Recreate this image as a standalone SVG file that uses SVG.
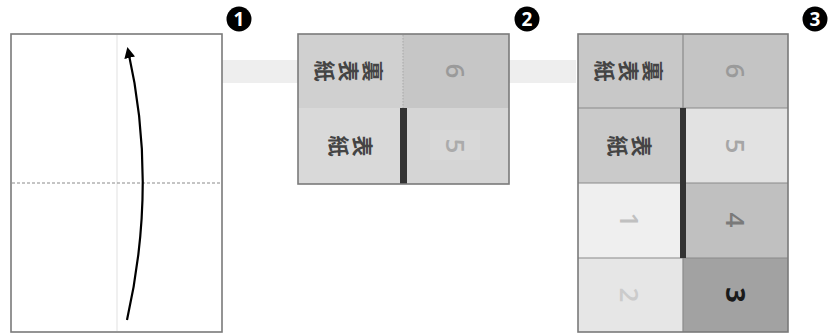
<svg xmlns="http://www.w3.org/2000/svg" width="839" height="334" viewBox="0 0 839 334">
<style>
.frame{fill:none;stroke:#7a7a7a;stroke-width:1.6}
.grid{stroke:#8a8a8a;stroke-width:1.2;fill:none}
.kanji{font-family:"Noto Sans CJK JP","Noto Sans CJK SC",sans-serif;font-size:21px;font-weight:bold;fill:#444;text-anchor:middle;dominant-baseline:central}
.num{font-family:"Open Sans","Liberation Sans",sans-serif;font-size:26px;font-weight:600;text-anchor:middle;dominant-baseline:central}
.num.strong{font-weight:bold;font-size:27px}
.badge circle{fill:#000}
.badge text{font-family:"Open Sans","Liberation Sans",sans-serif;font-size:19px;font-weight:bold;fill:#fff;text-anchor:middle;dominant-baseline:central}
.bar{fill:#333}
</style>
<defs>
<marker id="ah" markerWidth="11" markerHeight="11" refX="8" refY="5.5" orient="auto" markerUnits="userSpaceOnUse">
<path d="M0,0 L11,5.5 L0,11 Z" fill="#000"/>
</marker>
</defs>
<rect width="839" height="334" fill="#fff"/>
<rect id="band" x="222" y="60" width="354" height="23" fill="#eeeeee"/>

<g id="step1">
<rect x="11" y="34" width="211" height="298" fill="#fff"/>
<line x1="117" y1="35" x2="117" y2="331" stroke="#e6e6e6" stroke-width="1.2"/>
<line x1="12" y1="183" x2="221" y2="183" stroke="#8a8a8a" stroke-width="1" stroke-dasharray="3,2"/>
<rect class="frame" x="11" y="34" width="211" height="298"/>
</g>

<g id="connectors">
<path d="M127,320 Q158,183 128,50" fill="none" stroke="#000" stroke-width="2.2" marker-end="url(#ah)"/>
</g>

<g id="step2">
<rect x="298" y="34" width="105" height="74" fill="#d0d0d0"/>
<rect x="403" y="34" width="106" height="74" fill="#c6c6c6"/>
<rect x="298" y="108" width="105" height="76" fill="#d9d9d9"/>
<rect x="403" y="108" width="106" height="76" fill="#d5d5d5"/>
<rect x="430" y="130" width="50" height="30" fill="#d8d8d8"/>
<line x1="403" y1="35" x2="403" y2="108" stroke="#a8a8a8" stroke-width="1" stroke-dasharray="1.5,1.5"/>
<rect class="bar" x="400" y="108" width="7" height="76"/>
<rect class="frame" x="298" y="34" width="211" height="150"/>
<text class="kanji" x="326" y="71" transform="rotate(90 326 71)">紙</text>
<text class="kanji" x="350" y="71" transform="rotate(90 350 71)">表</text>
<text class="kanji" x="374" y="71" transform="rotate(90 374 71)">裏</text>
<text class="kanji" x="340" y="146" transform="rotate(90 340 146)">紙</text>
<text class="kanji" x="364" y="146" transform="rotate(90 364 146)">表</text>
<text class="num" x="456" y="71" fill="#9a9a9a" transform="rotate(90 456 71)">6</text>
<text class="num" x="456" y="146" fill="#ababab" transform="rotate(90 456 146)">5</text>
</g>

<g id="step3">
<rect x="578" y="34" width="105" height="74" fill="#c8c8c8"/>
<rect x="683" y="34" width="105" height="74" fill="#c4c4c4"/>
<rect x="578" y="108" width="105" height="75" fill="#cacaca"/>
<rect x="683" y="108" width="105" height="75" fill="#e2e2e2"/>
<rect x="578" y="183" width="105" height="75" fill="#efefef"/>
<rect x="683" y="183" width="105" height="75" fill="#c0c0c0"/>
<rect x="578" y="258" width="105" height="74" fill="#e6e6e6"/>
<rect x="683" y="258" width="105" height="74" fill="#a2a2a2"/>
<path class="grid" d="M683,34 V332 M578,108 H788 M578,183 H788 M578,258 H788"/>
<rect class="bar" x="680" y="108" width="6" height="150"/>
<rect class="frame" x="578" y="34" width="210" height="298"/>
<text class="kanji" x="606" y="71" transform="rotate(90 606 71)">紙</text>
<text class="kanji" x="630" y="71" transform="rotate(90 630 71)">表</text>
<text class="kanji" x="654" y="71" transform="rotate(90 654 71)">裏</text>
<text class="kanji" x="619" y="146" transform="rotate(90 619 146)">紙</text>
<text class="kanji" x="643" y="146" transform="rotate(90 643 146)">表</text>
<text class="num" x="736" y="71" fill="#9a9a9a" transform="rotate(90 736 71)">6</text>
<text class="num" x="736" y="146" fill="#a6a6a6" transform="rotate(90 736 146)">5</text>
<text class="num" x="736" y="220" fill="#7a7a7a" transform="rotate(90 736 220)">4</text>
<text class="num strong" x="736" y="295" fill="#1a1a1a" transform="rotate(90 736 295)">3</text>
<text class="num" x="630" y="220" fill="#c0c0c0" transform="rotate(90 630 220)">1</text>
<text class="num" x="630" y="295" fill="#cbcbcb" transform="rotate(90 630 295)">2</text>
</g>

<g id="badge1" class="badge"><circle cx="239" cy="19" r="12.5"/><text x="239" y="19">1</text></g>
<g id="badge2" class="badge"><circle cx="527" cy="19" r="12.5"/><text x="527" y="19">2</text></g>
<g id="badge3" class="badge"><circle cx="815" cy="19" r="12.5"/><text x="815" y="19">3</text></g>
</svg>
